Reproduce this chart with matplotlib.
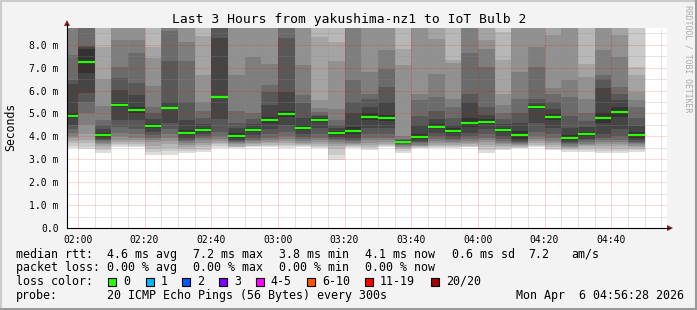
import matplotlib
matplotlib.use('Agg')
import matplotlib.pyplot as plt
from matplotlib.patches import Rectangle, Polygon
from matplotlib.lines import Line2D

W, H = 697, 310
MONO = 'DejaVu Sans Mono'

# start of every 5 min step (first one is cut by the left edge)
step_start = ['01:55', '02:00', '02:05', '02:10', '02:15', '02:20', '02:25',
              '02:30', '02:35', '02:40', '02:45', '02:50', '02:55', '03:00',
              '03:05', '03:10', '03:15', '03:20', '03:25', '03:30', '03:35',
              '03:40', '03:45', '03:50', '03:55', '04:00', '04:05', '04:10',
              '04:15', '04:20', '04:25', '04:30', '04:35', '04:40', '04:45']
last_step_end = '04:50'

# median rtt per step [ms]
medians = [4.9, 7.25, 4.06, 5.38, 5.15, 4.45, 5.24, 4.16, 4.29, 5.72,
           4.03, 4.29, 4.72, 4.98, 4.38, 4.72, 4.16, 4.25, 4.85, 4.8,
           3.76, 3.99, 4.42, 4.25, 4.6, 4.64, 4.28, 4.06, 5.28, 4.85,
           3.94, 4.1, 4.8, 5.08, 4.06]

# sorted pings 1..10 per step [ms]
pings_low = [
    [3.48, 3.6, 3.7, 3.8, 3.92, 4.0, 4.13, 4.3, 4.5, 4.8],
    [3.43, 3.55, 3.7, 3.85, 4.1, 4.5, 5.0, 5.5, 5.88, 6.78],
    [3.26, 3.4, 3.5, 3.58, 3.65, 3.72, 3.78, 3.85, 3.9, 3.98],
    [3.55, 3.62, 3.68, 3.75, 3.85, 4.0, 4.15, 4.4, 4.7, 5.3],
    [3.55, 3.6, 3.67, 3.75, 3.85, 3.95, 4.1, 4.3, 4.7, 5.0],
    [3.19, 3.3, 3.45, 3.6, 3.75, 3.85, 3.95, 4.05, 4.2, 4.35],
    [3.19, 3.35, 3.5, 3.65, 3.8, 3.95, 4.1, 4.3, 4.6, 5.2],
    [3.29, 3.37, 3.45, 3.55, 3.62, 3.7, 3.78, 3.85, 3.95, 4.05],
    [3.33, 3.42, 3.52, 3.62, 3.72, 3.82, 3.92, 4.0, 4.1, 4.2],
    [3.48, 3.57, 3.65, 3.72, 3.8, 3.9, 4.0, 4.2, 4.75, 5.69],
    [3.48, 3.52, 3.55, 3.6, 3.65, 3.7, 3.75, 3.8, 3.85, 3.92],
    [3.52, 3.56, 3.6, 3.66, 3.72, 3.78, 3.85, 3.95, 4.05, 4.2],
    [3.52, 3.57, 3.63, 3.7, 3.77, 3.85, 3.95, 4.1, 4.3, 4.6],
    [3.5, 3.56, 3.62, 3.7, 3.78, 3.88, 4.0, 4.2, 4.5, 4.86],
    [3.52, 3.56, 3.61, 3.67, 3.73, 3.8, 3.88, 3.98, 4.1, 4.26],
    [3.48, 3.54, 3.6, 3.67, 3.74, 3.82, 3.95, 4.1, 4.35, 4.64],
    [2.97, 3.2, 3.45, 3.58, 3.66, 3.74, 3.82, 3.9, 3.98, 4.07],
    [3.48, 3.52, 3.56, 3.61, 3.66, 3.72, 3.78, 3.85, 3.95, 4.1],
    [3.41, 3.48, 3.55, 3.64, 3.73, 3.83, 3.95, 4.1, 4.35, 4.7],
    [3.52, 3.56, 3.61, 3.68, 3.76, 3.84, 3.95, 4.1, 4.35, 4.65],
    [3.26, 3.36, 3.45, 3.5, 3.54, 3.58, 3.62, 3.65, 3.69, 3.73],
    [3.48, 3.51, 3.54, 3.57, 3.6, 3.64, 3.69, 3.74, 3.8, 3.88],
    [3.48, 3.52, 3.57, 3.63, 3.7, 3.78, 3.88, 4.0, 4.15, 4.32],
    [3.48, 3.52, 3.57, 3.63, 3.69, 3.75, 3.82, 3.9, 4.0, 4.15],
    [3.52, 3.55, 3.6, 3.66, 3.72, 3.79, 3.88, 4.0, 4.15, 4.4],
    [3.26, 3.4, 3.52, 3.64, 3.74, 3.84, 3.95, 4.1, 4.3, 4.53],
    [3.41, 3.47, 3.53, 3.59, 3.65, 3.72, 3.8, 3.9, 4.02, 4.18],
    [3.48, 3.51, 3.55, 3.58, 3.62, 3.66, 3.7, 3.75, 3.8, 3.87],
    [3.55, 3.59, 3.64, 3.7, 3.78, 3.88, 4.0, 4.2, 4.6, 5.21],
    [3.41, 3.47, 3.54, 3.62, 3.7, 3.8, 3.92, 4.1, 4.35, 4.72],
    [3.33, 3.39, 3.45, 3.5, 3.55, 3.6, 3.65, 3.7, 3.76, 3.83],
    [3.33, 3.41, 3.49, 3.56, 3.62, 3.68, 3.75, 3.82, 3.9, 4.0],
    [3.26, 3.37, 3.48, 3.58, 3.67, 3.75, 3.85, 3.95, 4.1, 4.6],
    [3.26, 3.37, 3.47, 3.56, 3.65, 3.74, 3.85, 4.0, 4.3, 4.86],
    [3.33, 3.4, 3.47, 3.54, 3.6, 3.65, 3.7, 3.75, 3.82, 3.92],
]

# sorted pings 11..20 per step [ms] (values above ~8.7 are off the chart, guessed)
pings_high = [
    [5.0, 6.3, 6.45, 7.55, 9.3, 9.8, 10.4, 11.2, 12.5, 14.0],
    [7.8, 7.92, 7.96, 9.2, 9.6, 10.2, 11.0, 12.0, 13.5, 15.0],
    [4.15, 4.3, 4.5, 4.72, 5.33, 6.5, 7.92, 9.4, 10.5, 12.0],
    [5.45, 6.03, 6.54, 7.04, 8.2, 9.3, 10.0, 11.0, 12.0, 13.5],
    [5.3, 5.81, 6.32, 7.63, 8.2, 9.3, 10.0, 11.0, 12.0, 13.5],
    [4.55, 4.75, 5.0, 5.3, 6.2, 7.4, 7.9, 9.4, 10.5, 12.0],
    [5.3, 5.5, 7.3, 8.6, 9.3, 10.0, 10.8, 11.6, 12.5, 14.0],
    [4.27, 4.7, 5.5, 7.3, 8.1, 9.3, 10.0, 11.0, 12.0, 13.5],
    [4.38, 4.55, 4.8, 5.1, 5.5, 6.67, 8.4, 9.4, 10.5, 12.0],
    [5.75, 8.3, 9.2, 9.8, 10.4, 11.0, 11.8, 12.6, 13.5, 15.0],
    [4.15, 4.35, 4.6, 5.1, 6.7, 9.3, 10.0, 11.0, 12.0, 13.5],
    [4.38, 4.55, 4.75, 5.0, 7.45, 9.3, 10.0, 11.0, 12.0, 13.5],
    [4.85, 5.36, 5.94, 6.23, 7.18, 9.3, 10.0, 11.0, 12.0, 13.5],
    [5.1, 5.95, 8.3, 9.2, 9.8, 10.4, 11.0, 11.8, 12.6, 14.0],
    [4.5, 4.8, 5.45, 5.8, 7.1, 9.3, 10.0, 11.0, 12.0, 13.5],
    [4.8, 4.88, 4.95, 5.05, 5.25, 5.6, 8.35, 9.4, 10.5, 12.0],
    [4.25, 4.35, 4.5, 4.7, 5.2, 7.3, 8.1, 9.4, 10.5, 12.0],
    [4.4, 5.0, 5.5, 6.45, 9.2, 9.8, 10.4, 11.2, 12.2, 13.5],
    [5.0, 5.3, 5.65, 5.87, 6.81, 9.3, 10.0, 11.0, 12.0, 13.5],
    [4.95, 5.5, 6.16, 6.96, 7.76, 9.3, 10.0, 11.0, 12.0, 13.5],
    [3.79, 3.82, 3.85, 3.9, 4.0, 7.1, 7.83, 9.4, 10.5, 12.0],
    [4.1, 4.5, 4.9, 5.58, 5.87, 9.3, 10.0, 11.0, 12.0, 13.5],
    [4.52, 4.75, 5.1, 5.72, 6.74, 8.27, 9.3, 10.2, 11.2, 12.5],
    [4.35, 4.5, 4.8, 5.28, 5.65, 7.2, 7.32, 9.4, 10.5, 12.0],
    [4.8, 5.5, 5.87, 7.62, 9.2, 9.8, 10.4, 11.2, 12.2, 13.5],
    [4.75, 4.95, 5.3, 7.03, 7.83, 8.2, 9.3, 10.2, 11.2, 12.5],
    [4.38, 4.55, 4.75, 5.0, 5.36, 5.87, 7.32, 8.56, 9.6, 11.0],
    [4.25, 4.6, 5.0, 5.65, 6.81, 9.3, 10.0, 11.0, 12.0, 13.5],
    [5.35, 5.45, 5.65, 7.03, 7.9, 9.3, 10.0, 11.0, 12.0, 13.5],
    [4.98, 5.2, 5.5, 5.87, 6.09, 8.41, 9.3, 10.2, 11.2, 12.5],
    [4.05, 4.35, 4.9, 5.72, 6.45, 9.3, 10.0, 11.0, 12.0, 13.5],
    [4.2, 4.4, 4.65, 5.0, 5.65, 6.6, 7.18, 9.4, 10.5, 12.0],
    [5.0, 6.09, 6.52, 6.67, 7.76, 9.3, 10.0, 11.0, 12.0, 13.5],
    [5.3, 5.58, 5.87, 6.16, 7.47, 8.41, 9.3, 10.2, 11.2, 12.5],
    [4.2, 4.45, 4.8, 5.28, 5.58, 5.94, 6.67, 7.03, 9.6, 11.0],
]

x_ticks = ['02:00', '02:20', '02:40', '03:00', '03:20', '03:40', '04:00', '04:20', '04:40']
y_ticks = [0, 1, 2, 3, 4, 5, 6, 7, 8]
y_labels = ['0.0', '1.0 m', '2.0 m', '3.0 m', '4.0 m', '5.0 m', '6.0 m', '7.0 m', '8.0 m']

loss_names = ['0', '1', '2', '3', '4-5', '6-10', '11-19', '20/20']
loss_colors = ['#26ff00', '#00b8ff', '#0059ff', '#7e00ff', '#ff00ff', '#ff5500', '#ff0000', '#a10000']


def to_min(hhmm):
    h, m = hhmm.split(':')
    return int(h) * 60 + int(m)


def fx(x):
    return x / W


def fy(y):
    return 1 - y / H


fig = plt.figure(figsize=(W / 100, H / 100), dpi=100, facecolor='#f3f3f3')
ax = fig.add_axes([fx(67), fy(228), 600 / W, 200 / H])
ax.set_facecolor('white')

# step edges for the smoke areas
edges = [to_min(t) for t in step_start] + [to_min(last_step_end)]
pings = [lo + hi for lo, hi in zip(pings_low, pings_high)]

# smoke: nested areas between ping k and ping 21-k, darker towards the median
for k in range(10):
    g = (int(190 / 10 * (10 - (k + 1))) + 50) / 255
    lower = [p[k] for p in pings]
    upper = [p[19 - k] for p in pings]
    ax.fill_between(edges, lower + lower[-1:], upper + upper[-1:], step='post',
                    color=(g, g, g), linewidth=0, zorder=2)

for i, m in enumerate(medians):
    ax.hlines(m, edges[i], edges[i + 1], color=loss_colors[0], lw=1.6, zorder=4)

# rrdtool style dotted grid on top
dot = (0, (1, 1))
for t in range(120, 296, 5):
    major = (t - 120) % 20 == 0
    ax.axvline(t, color=(1, 0, 0, 0.35) if major else (0.55, 0.55, 0.55, 0.45),
               lw=0.72, ls=dot, zorder=3)
for v in [0.5 * j for j in range(1, 18)]:
    major = v == int(v)
    ax.axhline(v, color=(1, 0, 0, 0.3) if major else (0.55, 0.55, 0.55, 0.45),
               lw=0.72, ls=dot, zorder=3)

ax.set_xlim(116.75, 296.75)
ax.set_ylim(0, 8.73)
ax.set_xticks([to_min(t) for t in x_ticks])
ax.set_xticklabels(x_ticks, family=MONO, fontsize=7)
ax.set_yticks(y_ticks)
ax.set_yticklabels(y_labels, family=MONO, fontsize=7)
ax.tick_params(axis='x', length=0, pad=5)
ax.tick_params(axis='y', length=0, pad=6)
for s in ax.spines.values():
    s.set_visible(False)

# axes with arrows
fig.add_artist(Line2D([fx(67), fx(670)], [fy(228), fy(228)], color='black', lw=0.8))
fig.add_artist(Line2D([fx(67), fx(67)], [fy(228), fy(24)], color='black', lw=0.8))
fig.add_artist(Polygon([[fx(667), fy(225)], [fx(673), fy(228)], [fx(667), fy(231)]],
                       closed=True, color='#8f1f1f', lw=0))
fig.add_artist(Polygon([[fx(64), fy(26)], [fx(67), fy(20)], [fx(70), fy(26)]],
                       closed=True, color='#8f1f1f', lw=0))

# frame
fig.add_artist(Line2D([0, 1], [fy(1), fy(1)], color='#cbcbcb', lw=1.5))
fig.add_artist(Line2D([fx(1), fx(1)], [0, 1], color='#cbcbcb', lw=1.5))
fig.add_artist(Line2D([0, 1], [fy(308.5), fy(308.5)], color='#999999', lw=2.2))
fig.add_artist(Line2D([fx(695.5), fx(695.5)], [0, 1], color='#999999', lw=2.2))

# texts
fig.text(fx(349), fy(19), 'Last 3 Hours from yakushima-nz1 to IoT Bulb 2',
         family=MONO, fontsize=9.4, ha='center', va='center')
fig.text(fx(11), fy(127), 'Seconds', family=MONO, fontsize=8.3,
         rotation=90, ha='center', va='center')
fig.text(fx(688), fy(5), 'RRDTOOL / TOBI OETIKER', family=MONO, fontsize=5.9,
         rotation=-90, ha='center', va='top', color='#aaaaaa')

lf = dict(family=MONO, fontsize=8.4, va='center')
y1, y2, y3, y4 = 254.3, 267.7, 281.5, 295.7
fig.text(fx(16), fy(y1), 'median rtt:', **lf)
for x, s in zip([107.3, 193.3, 278.7, 365, 451.7, 528.3, 571.7],
                ['4.6 ms avg', '7.2 ms max', '3.8 ms min', '4.1 ms now',
                 '0.6 ms sd', '7.2', 'am/s']):
    fig.text(fx(x), fy(y1), s, **lf)
fig.text(fx(16), fy(y2), 'packet loss:', **lf)
for x, s in zip([107.3, 193.3, 278.7, 365],
                ['0.00 % avg', '0.00 % max', '0.00 % min', '0.00 % now']):
    fig.text(fx(x), fy(y2), s, **lf)
fig.text(fx(16), fy(y3), 'loss color:', **lf)
for x, name, c in zip([108.3, 145.7, 182.3, 219, 255.7, 307.3, 365, 431],
                      loss_names, loss_colors):
    fig.add_artist(Rectangle((fx(x), fy(y3 + 4)), 8 / W, 8 / H, facecolor=c,
                             edgecolor='black', lw=0.8))
    fig.text(fx(x + 15), fy(y3), name, **lf)
fig.text(fx(16), fy(y4), 'probe:', **lf)
fig.text(fx(107.3), fy(y4), '20 ICMP Echo Pings (56 Bytes) every 300s', **lf)
fig.text(fx(684), fy(y4), 'Mon Apr  6 04:56:28 2026', ha='right', **lf)

fig.savefig('out.png', dpi=100, facecolor=fig.get_facecolor())
